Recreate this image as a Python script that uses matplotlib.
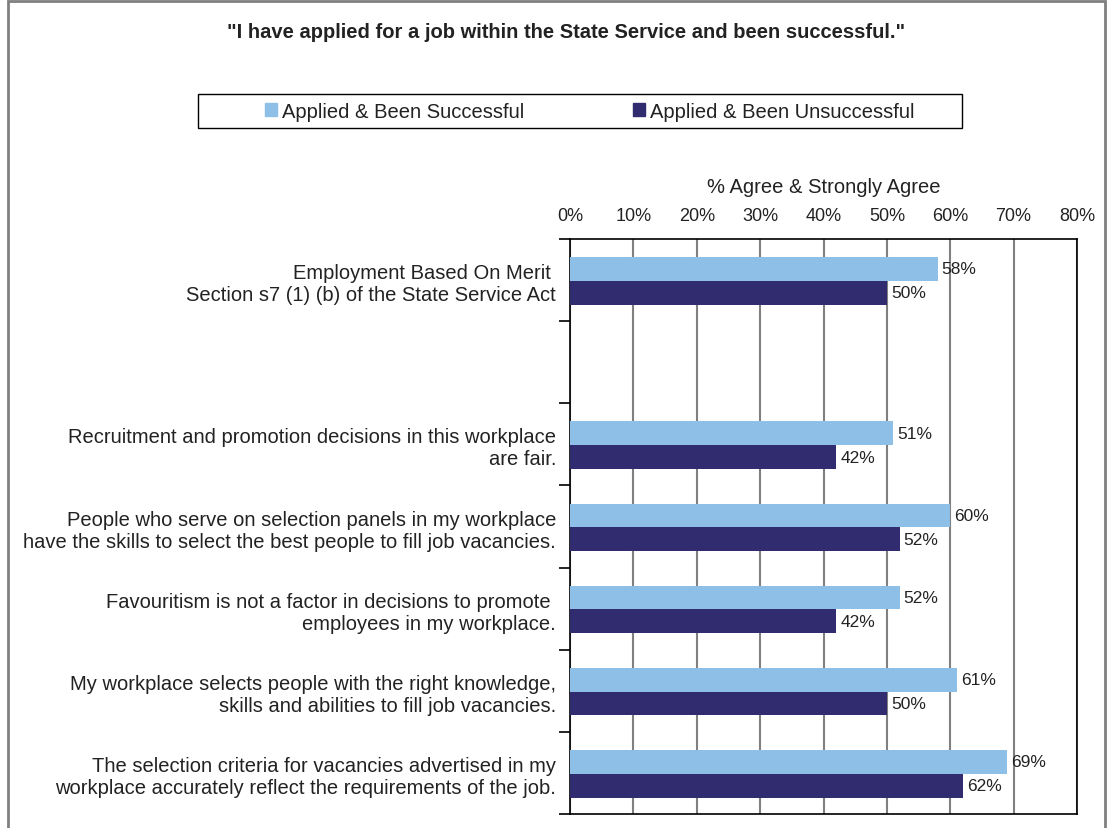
import matplotlib.pyplot as plt
from matplotlib.patches import Rectangle, Patch
import numpy as np

plt.rcParams['font.family'] = ['Liberation Sans', 'DejaVu Sans']

categories = [
    'Employment Based On Merit \nSection s7 (1) (b) of the State Service Act',
    '',
    'Recruitment and promotion decisions in this workplace\nare fair.',
    'People who serve on selection panels in my workplace\nhave the skills to select the best people to fill job vacancies.',
    'Favouritism is not a factor in decisions to promote \nemployees in my workplace.',
    'My workplace selects people with the right knowledge,\nskills and abilities to fill job vacancies.',
    'The selection criteria for vacancies advertised in my\nworkplace accurately reflect the requirements of the job.',
]
successful = [58, None, 51, 60, 52, 61, 69]
unsuccessful = [50, None, 42, 52, 42, 50, 62]
series_names = ['Applied & Been Successful', 'Applied & Been Unsuccessful']
colors = ['#8EBFE7', '#312B70']

W, H = 1107, 829
fig = plt.figure(figsize=(W / 100, H / 100), dpi=100)
ax = fig.add_axes([570 / W, 1 - 815 / H, (1077 - 570) / W, (815 - 240) / H])

y = np.arange(len(categories))
h = 0.29
idx = [i for i, v in enumerate(successful) if v is not None]
s_vals = [successful[i] for i in idx]
u_vals = [unsuccessful[i] for i in idx]
b1 = ax.barh(y[idx] - h / 2 + 0.01, s_vals, height=h, color=colors[0], zorder=3)
b2 = ax.barh(y[idx] + h / 2 + 0.01, u_vals, height=h, color=colors[1], zorder=3)
ax.bar_label(b1, fmt='{:.0f}%', padding=3, fontsize=12.5, color='#222222')
ax.bar_label(b2, fmt='{:.0f}%', padding=3, fontsize=12.5, color='#222222')

ax.set_xlim(0, 80)
ax.set_ylim(len(categories) - 0.5, -0.5)

# x axis on top
ax.xaxis.set_ticks_position('top')
ax.xaxis.set_label_position('top')
ax.set_xticks(range(0, 81, 10))
ax.set_xticklabels([f'{t}%' for t in range(0, 81, 10)])
ax.tick_params(axis='x', length=0, pad=10.6, labelsize=13, labelcolor='#222222')
ax.set_xlabel('% Agree & Strongly Agree', fontsize=14.5, labelpad=11, color='#222222')
ax.grid(axis='x', color='#808080', lw=1.5, zorder=1)

# category labels at slot centres, tick marks at slot boundaries
ax.set_yticks(y)
ax.set_yticklabels(categories, linespacing=1.2)
ax.set_yticks(np.arange(-0.5, len(categories)), minor=True)
ax.tick_params(axis='y', which='major', length=0, pad=10, labelsize=14.5, labelcolor='#222222')
ax.tick_params(axis='y', which='minor', length=8, width=1.2, direction='out')

for sp in ax.spines.values():
    sp.set_color('black')
    sp.set_linewidth(1.2)

# chart title
fig.text(566 / W, 1 - 33 / H, '"I have applied for a job within the State Service and been successful."',
         ha='center', va='center', fontsize=14.5, fontweight='bold', color='#222222')

# legend with a square frame
fig.patches.append(Rectangle((198 / W, 1 - 129 / H), (962 - 198) / W, 34 / H,
                             transform=fig.transFigure, fill=False, edgecolor='black', lw=1))
handles = [Patch(color=c) for c in colors]
fig.legend(handles, series_names, loc='center', bbox_to_anchor=(590 / W, 1 - 112 / H),
           ncol=2, frameon=False, fontsize=14.5, handlelength=0.6, handleheight=0.6,
           handletextpad=0.25, columnspacing=5.4, borderpad=0, labelcolor='#222222')

# outer border
fig.patches.append(Rectangle((8 / W, -0.1), (1105 - 8) / W, 1.1 - 2 / H,
                             transform=fig.transFigure, fill=False, edgecolor='#808080', lw=2))

fig.savefig('out.png', dpi=100)
